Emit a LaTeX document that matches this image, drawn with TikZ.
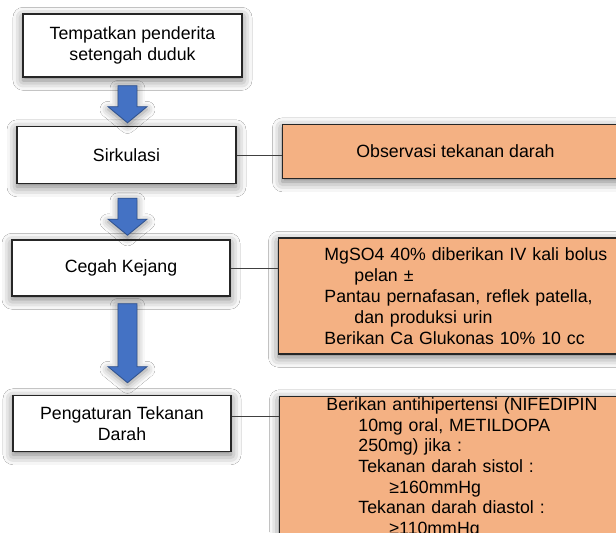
\documentclass[tikz,border=0pt]{standalone}
\usepackage{fontspec}
\setmainfont{Liberation Sans}
\usetikzlibrary{positioning,calc,shadows.blur}

\definecolor{boxorange}{RGB}{244,177,131}
\definecolor{arrowblue}{RGB}{68,114,196}
\definecolor{arrowedge}{RGB}{47,82,143}

% block arrow: from node, to node, gap below source, gap above target
\newcommand{\blockarrow}[4]{%
  \coordinate (at) at ($(#1.south -| ax)+(0,-#3)$);
  \coordinate (ab) at ($(#2.north -| ax)+(0,#4)$);
  \path[bigarrow] ($(at)+(-7.1pt,0)$) -- ($(at)+(7.1pt,0)$) -- ($(ab)+(7.1pt,12pt)$)
    -- ($(ab)+(14.6pt,12pt)$) -- (ab) -- ($(ab)+(-14.6pt,12pt)$) -- ($(ab)+(-7.1pt,12pt)$) -- cycle;}

\begin{document}
\begin{tikzpicture}[auto,
    stage/.style={draw=black!85, fill=white, line width=1.1pt, rectangle, minimum width=164.25pt, align=center,
      font=\fontsize{13.3pt}{16pt}\selectfont,
      blur shadow={shadow xshift=0pt, shadow yshift=-2.5pt, shadow blur radius=7.5pt, shadow opacity=55}},
    action/.style={draw=black!85, fill=boxorange, line width=1.1pt, rectangle,
      font=\fontsize{13.3pt}{15.5pt}\selectfont,
      blur shadow={shadow xshift=0pt, shadow yshift=-2.5pt, shadow blur radius=7.5pt, shadow opacity=55}},
    bigarrow/.style={fill=arrowblue, draw=arrowedge, line width=0.6pt,
      blur shadow={shadow xshift=0pt, shadow yshift=-2pt, shadow blur radius=6pt, shadow opacity=45}},
    link/.style={draw=black!75, line width=0.6pt}]

    \useasboundingbox[fill=white] (0,0) rectangle (462pt,-399pt);

    % Steps
    \node[stage, minimum height=47.25pt] (pos) at (99.375pt,-34.125pt) {Tempatkan penderita\\setengah duduk};
    \node[stage, minimum height=42.75pt, below=36pt of pos, xshift=-4.5pt] (sirk) {Sirkulasi};
    \node[stage, minimum height=42pt, minimum width=163.5pt, below=41.25pt of sirk, xshift=-4.125pt] (kejang) {Cegah Kejang};
    \node[stage, minimum height=42pt, minimum width=163.5pt, below=73.5pt of kejang, xshift=0.75pt] (tensi) {Pengaturan Tekanan\\Darah};

    % Actions
    \node[action, minimum width=259.5pt, minimum height=40.5pt, right=33.75pt of sirk.north east, anchor=north west, yshift=1.5pt] (obs) {Observasi tekanan darah};
    \node[action, align=left, text width=217.5pt, inner xsep=34.5pt, minimum height=87pt,
      right=35.25pt of kejang.north east, anchor=north west, yshift=1.5pt, font=\fontsize{13.3pt}{15.75pt}\selectfont] (mgso) {%
      MgSO4 40\% diberikan IV kali bolus\\
      \hspace*{22.5pt}pelan ±\\
      Pantau pernafasan, reflek patella,\\
      \hspace*{22.5pt}dan produksi urin\\
      Berikan Ca Glukonas 10\% 10 cc};
    \node[action, align=left, text width=217.5pt, inner xsep=35.25pt, inner ysep=1pt,
      right=35.25pt of tensi.north east, anchor=north west, yshift=-0.75pt] (obat) {%
      Berikan antihipertensi (NIFEDIPIN\\
      \hspace*{24pt}10mg oral, METILDOPA\\
      \hspace*{24pt}250mg) jika :\\
      \hspace*{24pt}Tekanan darah sistol :\\
      \hspace*{47.25pt}≥160mmHg\\
      \hspace*{24pt}Tekanan darah diastol :\\
      \hspace*{47.25pt}≥110mmHg};

    % Arrows
    \coordinate (ax) at ([xshift=-3.75pt]pos.south);
    \blockarrow{pos}{sirk}{6pt}{2.25pt}
    \blockarrow{sirk}{kejang}{10.5pt}{3pt}
    \blockarrow{kejang}{tensi}{5.25pt}{9pt}

    % Connections
    \draw[link] (sirk.east) -- (sirk.east -| obs.west);
    \draw[link] (kejang.east) -- (kejang.east -| mgso.west);
    \draw[link] ([yshift=5.25pt]tensi.east) -- ([yshift=5.25pt]tensi.east -| obat.west);

\end{tikzpicture}
\end{document}
